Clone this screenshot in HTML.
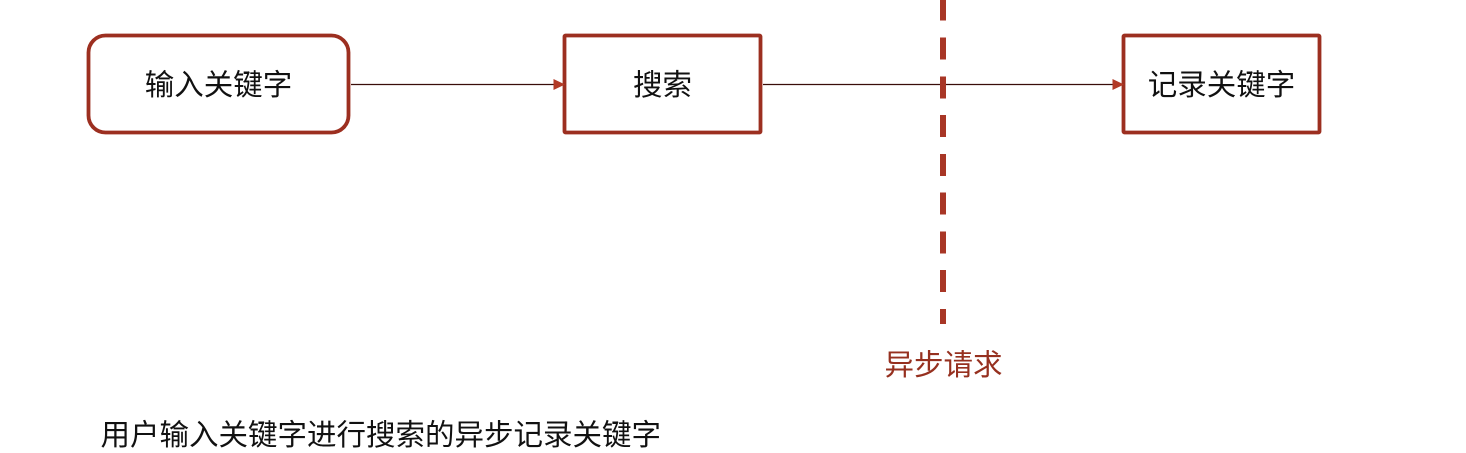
<!DOCTYPE html>
<html lang="zh">
<head>
<meta charset="utf-8">
<style>
html,body{margin:0;padding:0;background:#fff;}
body{width:1466px;height:453px;overflow:hidden;}
svg{display:block;}
text{font-family:"Liberation Sans","Noto Sans CJK SC",sans-serif;font-size:29.5px;font-weight:400;}
</style>
</head>
<body>
<svg width="1466" height="453" viewBox="0 0 1466 453" xmlns="http://www.w3.org/2000/svg">
<rect width="1466" height="453" fill="#fff"/>
<rect x="88.500" y="35.500" width="260" height="97" rx="17" ry="17" fill="#fff" stroke="#9c2f20" stroke-width="3.8"/>
<rect x="564.500" y="35.500" width="196" height="97" rx="1" fill="#fff" stroke="#9c2f20" stroke-width="3.8"/>
<rect x="1123.500" y="35.500" width="196" height="97" rx="1" fill="#fff" stroke="#9c2f20" stroke-width="3.8"/>
<line x1="351" y1="84.500" x2="556" y2="84.500" stroke="#3a0e09" stroke-width="1.2"/>
<polygon points="553.500,79 565,84.500 553.500,90" fill="#b23a26"/>
<line x1="763" y1="84.500" x2="1115" y2="84.500" stroke="#3a0e09" stroke-width="1.2"/>
<polygon points="1112.500,79 1124,84.500 1112.500,90" fill="#b23a26"/>
<g fill="#a83626">
<rect x="940" y="-2" width="6" height="22.500"/>
<rect x="940" y="37.500" width="6" height="22"/>
<rect x="940" y="76.500" width="6" height="22"/>
<rect x="940" y="115" width="6" height="22"/>
<rect x="940" y="154" width="6" height="22"/>
<rect x="940" y="192.500" width="6" height="22"/>
<rect x="940" y="231.500" width="6" height="22"/>
<rect x="940" y="270" width="6" height="22"/>
<rect x="940" y="309" width="6" height="15"/>
</g>
<text x="218.500" y="95" text-anchor="middle" fill="#111">输入关键字</text>
<text x="662.500" y="95" text-anchor="middle" fill="#111">搜索</text>
<text x="1221.500" y="95" text-anchor="middle" fill="#111">记录关键字</text>
<text x="943.500" y="375" text-anchor="middle" fill="#96301f">异步请求</text>
<text x="100.500" y="445" fill="#111">用户输入关键字进行搜索的异步记录关键字</text>
</svg>
</body>
</html>
